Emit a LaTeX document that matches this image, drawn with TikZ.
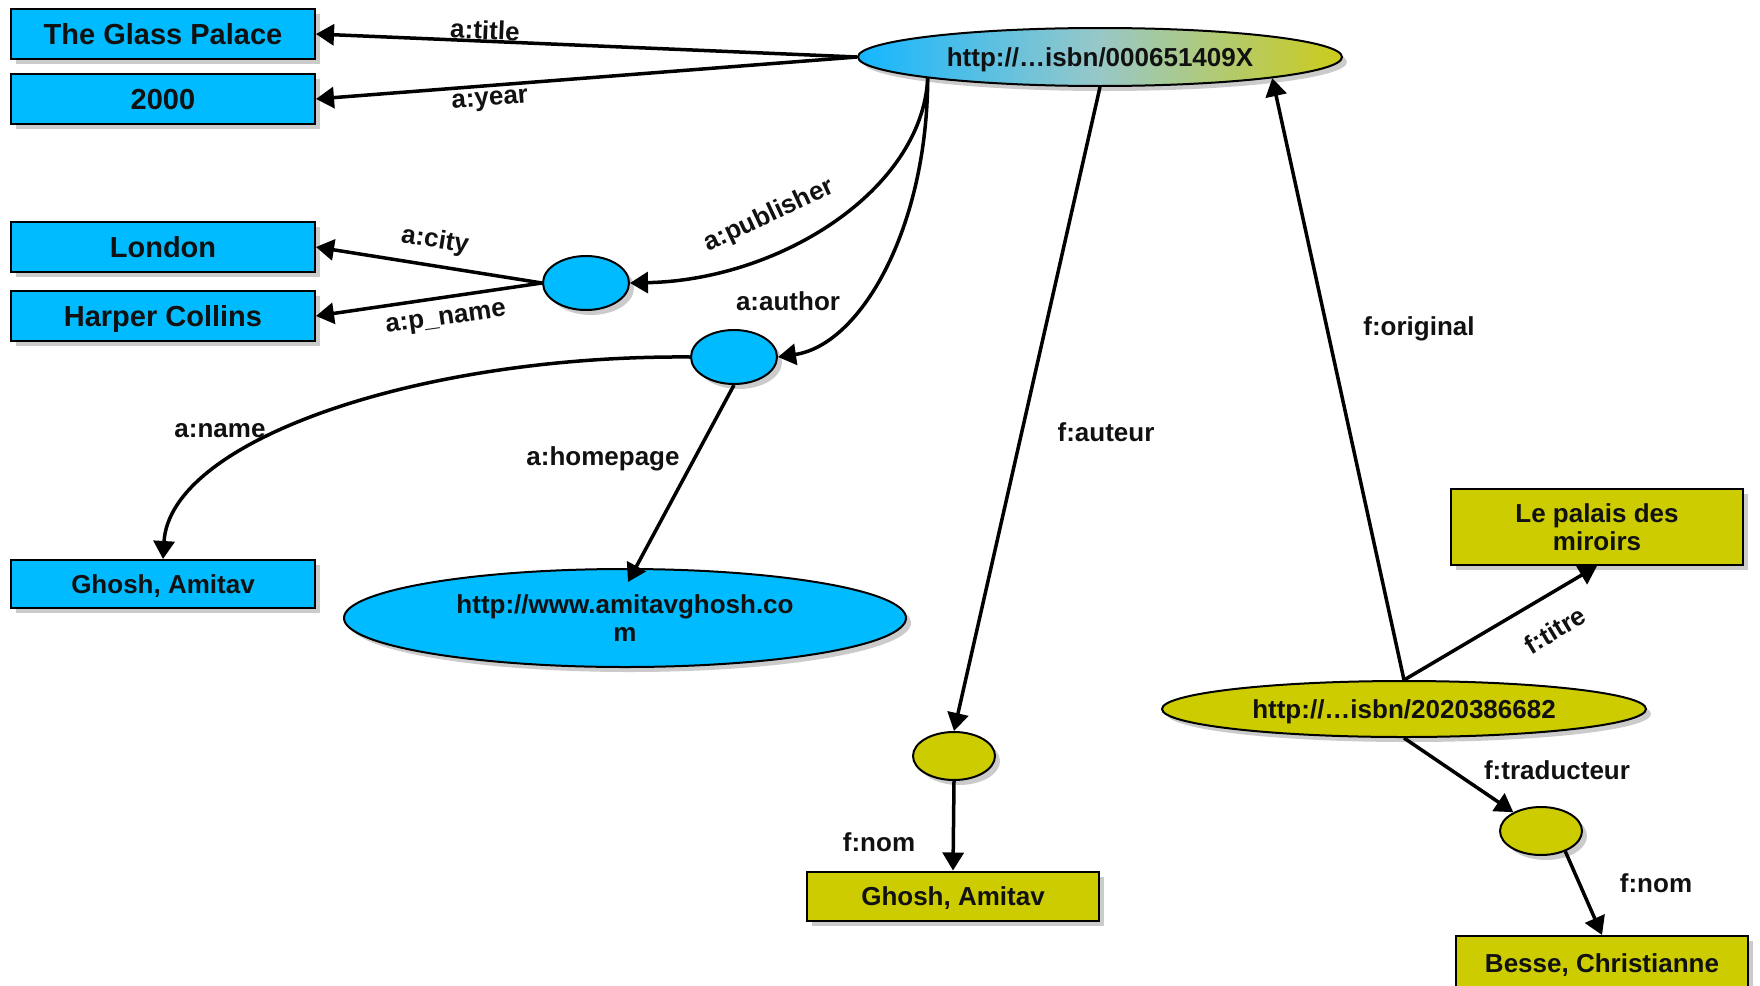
\documentclass[tikz,border=0pt]{standalone}
\usepackage{fontspec}
\setmainfont{Liberation Sans}
\usetikzlibrary{shapes.geometric,shadows,arrows.meta,calc}
\definecolor{rdfblue}{HTML}{00BBFF}
\definecolor{rdfolive}{HTML}{CCCC00}
\definecolor{gradL}{HTML}{14B6FF}
\definecolor{gradM}{HTML}{98C8C8}
\definecolor{gradR}{HTML}{CCCC1A}
\definecolor{ink}{HTML}{111111}

\begin{document}
\begin{tikzpicture}[x=1pt,y=-1pt,
  dropsh/.style={drop shadow={shadow xshift=5pt,shadow yshift=-5pt,fill=gray!55,opacity=0.75}},
  txt/.style={text=ink,font=\fontsize{26}{28}\selectfont\bfseries,align=center},
  bigtxt/.style={text=ink,font=\fontsize{29}{31}\selectfont\bfseries,align=center},
  oneline/.style={text depth=0pt},
  lit/.style={rectangle,draw=black,line width=2pt,dropsh,inner sep=0pt,minimum width=304pt,minimum height=50pt},
  blit/.style={lit,fill=rdfblue},
  ylit/.style={lit,fill=rdfolive,minimum width=292pt},
  res/.style={ellipse,draw=black,line width=2pt,dropsh,inner sep=0pt},
  bres/.style={res,fill=rdfblue},
  yres/.style={res,fill=rdfolive},
  arr/.style={line width=3.5pt,-{Triangle[length=18pt,width=21pt]}},
  lbl/.style={txt,inner sep=0pt}
]
\useasboundingbox (0,0) rectangle (1760,985);

% ---- English description (left) ----
\node[blit,bigtxt,oneline] (glass)  at (163,34)  {The Glass Palace};
\node[blit,bigtxt,oneline] (year)   at (163,99)  {2000};
\node[blit,bigtxt,oneline] (london) at (163,247) {London};
\node[blit,bigtxt,oneline] (harper) at (163,316) {Harper Collins};
\node[blit,txt,oneline,minimum height=48pt] (ghoshA) at (163,584) {Ghosh, Amitav};

% the middle colour has to come after left/right, which reset it
\node[res,txt,oneline,minimum width=484pt,minimum height=58pt,
      left color=gradL,right color=gradR,middle color=gradM]
  (isbnA) at (1100,57) {http://\ldots isbn/000651409X};
\node[bres,minimum width=86pt,minimum height=54pt] (pub) at (586,283) {};
\node[bres,minimum width=86pt,minimum height=54pt] (auth) at (734,357) {};
\node[bres,txt,minimum width=562pt,minimum height=98pt] (home) at (625,618)
  {http://www.amitavghosh.co\\m};

% ---- French description (right) ----
\node[yres,txt,oneline,minimum width=484pt,minimum height=56pt] (isbnB) at (1404,709)
  {http://\ldots isbn/2020386682};
\node[yres,minimum width=82pt,minimum height=48pt] (autF) at (954,756) {};
\node[yres,minimum width=82pt,minimum height=48pt] (trad) at (1541,831) {};
\node[ylit,txt,oneline,minimum height=49pt] (ghoshF) at (953,896) {Ghosh, Amitav};
\node[ylit,txt,minimum height=76pt] (palais) at (1597,527) {Le palais des\\miroirs};
\node[ylit,txt,oneline,minimum height=54pt] (besse) at (1602,963) {Besse, Christianne};

% ---- connectors ----
\draw[arr] (isbnA.west) -- (glass.east);
\draw[arr] (isbnA.west) -- (year.east);
\draw[arr] (isbnA.187) .. controls (922,190) and (780,280) .. (pub.east);
\draw[arr] (isbnA.187) .. controls (927,230) and (860,345) .. (auth.east);
\draw[arr] (pub.west) -- (london.east);
\draw[arr] (pub.west) -- (harper.east);
\draw[arr] (auth.west) .. controls (420,355) and (170,440) .. (ghoshA.north);
\draw[arr] (auth.south) -- ([xshift=3pt,yshift=-14pt]home.north);
\draw[arr] (isbnA.south) -- (autF.north);
\draw[arr] (autF.south) -- (ghoshF.north);
\draw[arr] (isbnB.north) -- (isbnA.353);
\draw[arr] (isbnB.north) -- (palais.south);
\draw[arr] (isbnB.south) -- (trad);
\draw[arr] (trad.-40) -- (besse.north);

% ---- connector labels ----
\node[lbl,rotate=-2.5] (l-title) at (485,30)  {a:title};
\node[lbl,rotate=4.5]  (l-year)  at (490,101) {a:year};
\node[lbl,rotate=25]   (l-pub)   at (769,216) {a:publisher};
\node[lbl,rotate=-9]   (l-city)  at (435,241) {a:city};
\node[lbl,rotate=8]    (l-pname) at (446,320) {a:p\_name};
\node[lbl] (l-auth)  at (788,301) {a:author};
\node[lbl] (l-name)  at (220,431) {a:name};
\node[lbl] (l-home)  at (603,459) {a:homepage};
\node[lbl] (l-aut)   at (1106,432) {f:auteur};
\node[lbl] (l-orig)  at (1419,329) {f:original};
\node[lbl,rotate=31] (l-titre) at (1555,630) {f:titre};
\node[lbl] (l-trad)  at (1557,770) {f:traducteur};
\node[lbl] (l-nomA)  at (879,842)  {f:nom};
\node[lbl] (l-nomB)  at (1656,883) {f:nom};
\end{tikzpicture}
\end{document}
